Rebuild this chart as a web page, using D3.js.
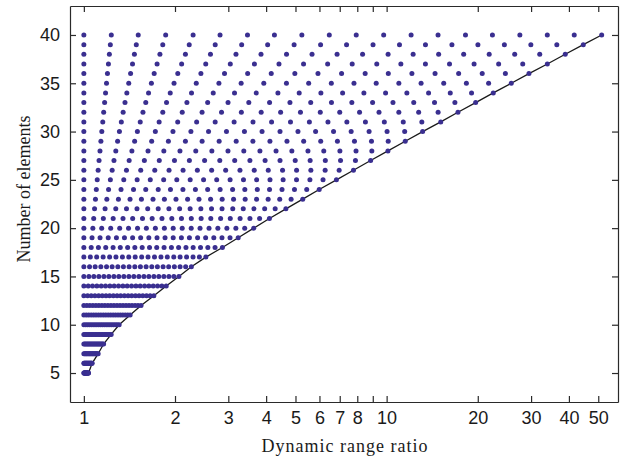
<!DOCTYPE html>
<html>
<head>
<meta charset="utf-8">
<style>
    body { margin: 0; background: #fff; }
    svg { display: block; font-family: 'Liberation Serif', 'Times New Roman', serif; }
    .axis text { font-size: 18px; fill: #1a1a1a; }
    .axis path, .axis line { stroke: #2a2a2a; stroke-width: 1.2px; }
</style>
</head>
<body>
<svg width="626" height="460"></svg>

<script src="https://d3js.org/d3.v7.min.js"></script>
<script>
    // one row of dots for each number of elements
    let elements = [5, 6, 7, 8, 9, 10, 11, 12, 13, 14, 15, 16, 17, 18, 19, 20, 21, 22,
        23, 24, 25, 26, 27, 28, 29, 30, 31, 32, 33, 34, 35, 36, 37, 38, 39, 40];

    // largest dynamic range ratio of each row (where the black curve passes)
    let maxRatio = [1.036, 1.065, 1.115, 1.162, 1.231, 1.308, 1.422, 1.545, 1.703, 1.871,
        2.06, 2.265, 2.529, 2.868, 3.234, 3.639, 4.101, 4.648, 5.283, 5.988,
        6.826, 7.77, 8.855, 10.1, 11.52, 13.15, 15.09, 17.2, 19.68, 22.5,
        25.8, 29.52, 33.94, 38.9, 44.62, 51.32];

    // the 20 dots of a row, as a fraction of that row's (log) span
    let dotFraction = [0, 0.053, 0.105, 0.158, 0.211, 0.263, 0.316, 0.368, 0.421, 0.474,
        0.526, 0.579, 0.632, 0.684, 0.737, 0.789, 0.842, 0.895, 0.947, 1];

    let xTicks = [1, 2, 3, 4, 5, 6, 7, 8, 9, 10, 20, 30, 40, 50];
    let xTickLabels = ["1", "2", "3", "4", "5", "6", "7", "8", "", "10", "20", "30", "40", "50"];
    let yTicks = [5, 10, 15, 20, 25, 30, 35, 40];

    let plotLeft = 70, plotRight = 618, plotTop = 6, plotBottom = 402;

    let svg = d3.select("svg");

    let x = d3.scaleLog()
        .domain([0.9, 58.1])
        .range([plotLeft, plotRight]);

    let y = d3.scaleLinear()
        .domain([2, 43])
        .range([plotBottom, plotTop]);

    // dots table built from the rows and dot positions
    let dots = [];
    elements.forEach((n, i) => {
        dotFraction.forEach(f => {
            dots.push({ n: n, ratio: Math.pow(maxRatio[i], f) });
        });
    });

    let edge = elements.map((n, i) => ({ n: n, ratio: maxRatio[i] }));

    // axes, ticks pointing inwards on all four sides
    svg.append("g")
        .attr("class", "axis")
        .attr("transform", `translate(0,${plotBottom})`)
        .call(d3.axisBottom(x).tickValues(xTicks).tickFormat((d, i) => xTickLabels[i])
            .tickSizeInner(-6).tickSizeOuter(0).tickPadding(9));

    svg.append("g")
        .attr("class", "axis")
        .attr("transform", `translate(0,${plotTop})`)
        .call(d3.axisTop(x).tickValues(xTicks).tickFormat("")
            .tickSizeInner(-6).tickSizeOuter(0));

    svg.append("g")
        .attr("class", "axis")
        .attr("transform", `translate(${plotLeft},0)`)
        .call(d3.axisLeft(y).tickValues(yTicks)
            .tickSizeInner(-6).tickSizeOuter(0).tickPadding(10));

    svg.append("g")
        .attr("class", "axis")
        .attr("transform", `translate(${plotRight},0)`)
        .call(d3.axisRight(y).tickValues(yTicks).tickFormat("")
            .tickSizeInner(-6).tickSizeOuter(0));

    let line = d3.line()
        .x(d => x(d.ratio))
        .y(d => y(d.n));

    svg.append("path")
        .datum(edge)
        .attr("d", line)
        .style("fill", "none")
        .style("stroke", "#1a1a1a")
        .style("stroke-width", 1.3);

    svg.selectAll("circle")
        .data(dots)
        .join("circle")
        .attr("cx", d => x(d.ratio))
        .attr("cy", d => y(d.n))
        .attr("r", 2.5)
        .style("fill", "#3a2f90");

    svg.append("text")
        .attr("x", 345)
        .attr("y", 452)
        .attr("text-anchor", "middle")
        .style("font-size", "18px")
        .style("letter-spacing", "1px")
        .style("fill", "#1a1a1a")
        .text("Dynamic range ratio");

    svg.append("text")
        .attr("transform", "translate(30,189) rotate(-90)")
        .attr("text-anchor", "middle")
        .style("font-size", "18px")
        .style("fill", "#1a1a1a")
        .text("Number of elements");
</script>
</body>
</html>
